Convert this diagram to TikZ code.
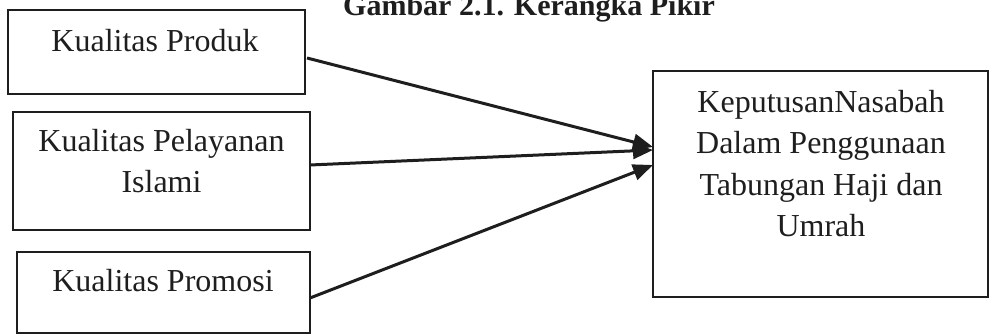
\documentclass[tikz,border=0pt]{standalone}
\usepackage{fontspec}
\setmainfont{Liberation Serif}
\usetikzlibrary{arrows.meta}
\definecolor{ink}{RGB}{30,30,30}
\tikzset{
  box/.style={draw=ink, line width=1.5pt, rectangle, inner sep=0pt, outer sep=0pt, anchor=north west},
  lbl/.style={text=ink, font=\fontsize{32}{41.5}\selectfont, align=center, anchor=base, inner sep=0pt},
  conn/.style={draw=ink, line width=3pt, -{Triangle[length=20pt,width=16pt]}}
}
\begin{document}
\begin{tikzpicture}[x=1pt,y=-1pt]
\useasboundingbox (0,0) rectangle (990,336);
\node[text=ink, font=\fontsize{30}{34}\selectfont\bfseries, anchor=base, inner sep=0pt] (title) at (529,16) {Gambar 2.1. Kerangka Pikir};
\node[box, minimum width=297pt, minimum height=84pt] (b1) at (8,10) {};
\node[box, minimum width=297pt, minimum height=118pt] (b2) at (13,112) {};
\node[box, minimum width=293pt, minimum height=81pt] (b3) at (17,252) {};
\node[box, minimum width=335pt, minimum height=226pt] (b4) at (653,71) {};
\node[lbl] (t1) at (155,52) {Kualitas Produk};
\node[lbl] (t2) at (161.5,193) {Kualitas Pelayanan\\Islami};
\node[lbl] (t3) at (163,292) {Kualitas Promosi};
\node[lbl] (t4) at (821,237) {KeputusanNasabah\\Dalam Penggunaan\\Tabungan Haji dan\\Umrah};
\coordinate (s1) at (307,58);
\coordinate (s2) at (310,165);
\coordinate (s3) at (310,298);
\coordinate (e1) at (653,147);
\coordinate (e2) at (653,150);
\coordinate (e3) at (653,165);
\draw[conn] (s1) -- (e1);
\draw[conn] (s2) -- (e2);
\draw[conn] (s3) -- (e3);
\end{tikzpicture}
\end{document}
